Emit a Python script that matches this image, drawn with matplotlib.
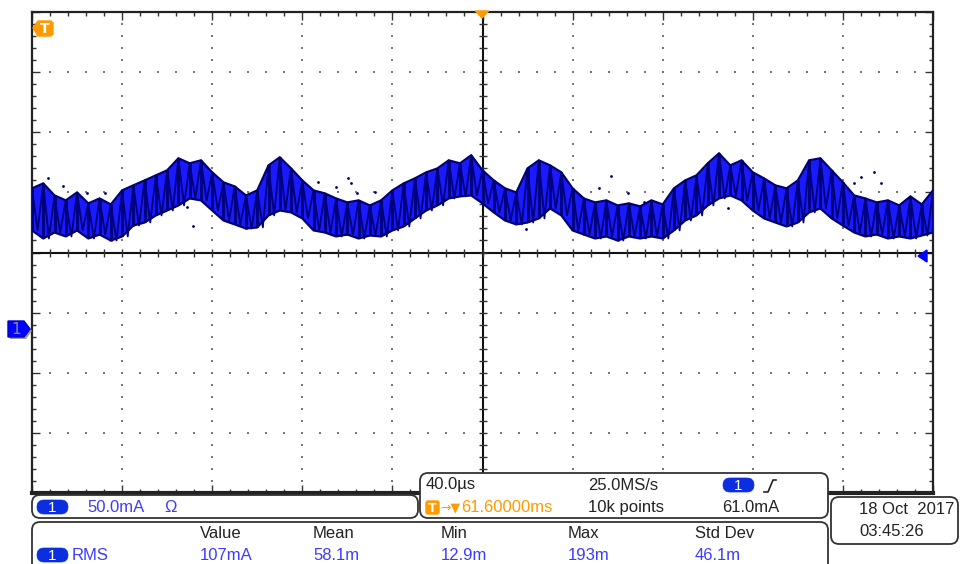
import matplotlib.pyplot as plt
import numpy as np
from matplotlib.patches import FancyBboxPatch, Polygon

plt.rcParams['font.family'] = ['Liberation Sans', 'DejaVu Sans']

# scope settings
t_div = 40.0          # us / div
i_div = 50.0          # mA / div
ch1_pos = -1.267      # ch1 ground marker, div from centre
n_xdiv, n_ydiv = 10, 8

# trace envelope, every 5 us from -200 to +200 us (mA)
t_env = np.arange(-200, 200.1, 5.0)
upper = [116.7, 120.8, 110.8, 106.7, 113.3, 104.2, 108.3, 103.3, 115.0, 119.2,
         123.3, 127.5, 131.7, 141.7, 137.5, 140.0, 130.0, 121.7, 118.3, 110.8,
         115.0, 135.8, 142.5, 133.3, 123.3, 115.0, 112.5, 108.3, 105.0, 106.7,
         102.5, 106.7, 115.0, 120.8, 125.0, 130.0, 133.3, 140.0, 137.5, 144.2,
         131.7, 123.3, 116.7, 113.3, 133.3, 140.0, 135.8, 130.0, 116.7, 108.3,
         105.0, 106.7, 102.5, 104.2, 101.7, 106.7, 103.3, 116.7, 123.3, 127.5,
         137.5, 145.8, 135.8, 140.0, 130.0, 125.0, 119.2, 116.7, 123.3, 140.0,
         141.7, 131.7, 121.7, 110.8, 108.3, 105.0, 106.7, 102.5, 110.0, 103.3,
         115.0]
lower = [81.7, 75.0, 80.0, 76.7, 81.7, 75.0, 78.3, 73.3, 76.7, 85.8,
         88.3, 94.2, 98.3, 102.5, 108.3, 106.7, 98.3, 90.0, 86.7, 83.3,
         84.2, 94.2, 98.3, 96.7, 91.7, 81.7, 80.0, 76.7, 78.3, 75.0,
         77.5, 76.7, 81.7, 85.0, 91.7, 98.3, 102.5, 108.3, 110.0, 110.8,
         104.2, 96.7, 90.0, 86.7, 88.3, 91.7, 100.0, 94.2, 81.7, 78.3,
         75.0, 76.7, 73.3, 76.7, 75.0, 76.7, 75.0, 81.7, 90.0, 94.2,
         102.5, 108.3, 110.8, 106.7, 98.3, 91.7, 88.3, 85.0, 88.3, 96.7,
         100.0, 91.7, 85.8, 80.0, 76.7, 78.3, 75.0, 76.7, 75.0, 77.5,
         80.0]

# stray samples outside the band
stray_t = [-192.9, -186.2, -175.6, -167.6, -131.1, -128.4, -72.9, -64.9, -59.6, -58.2, -55.6,
           -47.6, 19.1, 51.6, 56.9, 64.4, 71.6, 108.9, 164.9, 168.0, 173.8, 176.9]
stray_i = [125.0, 118.3, 112.5, 112.5, 100.8, 85.8, 121.7, 117.5, 125.0, 120.8, 112.5,
           113.3, 83.3, 116.7, 126.7, 112.5, 105.0, 100.0, 120.8, 125.8, 130.0, 120.8]

meas_names = ['Value', 'Mean', 'Min', 'Max', 'Std Dev']
meas_vals = ['107mA', '58.1m', '12.9m', '193m', '46.1m']

W, H = 960, 564
fig = plt.figure(figsize=(W / 100, H / 100), dpi=100)
fig.patch.set_facecolor('white')
rect = [32 / W, 1 - 493 / H, 901 / W, 481 / H]

# graticule
ax = fig.add_axes(rect)
ax.set_xlim(0, n_xdiv)
ax.set_ylim(0, n_ydiv)
ax.set_xticks(range(n_xdiv + 1))
ax.set_yticks(range(n_ydiv + 1))
ax.set_xticks(np.arange(0, n_xdiv + 0.01, 0.2), minor=True)
ax.set_yticks(np.arange(0, n_ydiv + 0.01, 0.2), minor=True)
ax.tick_params(which='both', direction='in', top=True, right=True,
               labelbottom=False, labelleft=False, color='#333')
ax.tick_params(which='major', length=6, width=1)
ax.tick_params(which='minor', length=3, width=1)
for s in ax.spines.values():
    s.set_linewidth(1.6)
    s.set_color('#222')
ax.spines['bottom'].set_linewidth(3)

ydots = np.arange(0.2, n_ydiv, 0.2)
xdots = np.arange(0.2, n_xdiv, 0.2)
for i in range(1, n_xdiv):
    if i != n_xdiv // 2:
        ax.scatter([i] * len(ydots), ydots, s=1.2, marker='s', color='#777', lw=0)
for j in range(1, n_ydiv):
    if j != n_ydiv // 2:
        ax.scatter(xdots, [j] * len(xdots), s=1.2, marker='s', color='#777', lw=0)
ax.axvline(n_xdiv / 2, color='#111', lw=1.5)
ax.axhline(n_ydiv / 2, color='#111', lw=1.5)
ax.plot([n_xdiv / 2] * len(ydots), ydots, ls='none', marker='_', ms=6, mew=1, color='#333')
ax.plot(xdots, [n_ydiv / 2] * len(xdots), ls='none', marker='|', ms=6, mew=1, color='#333')

# trace
axd = fig.add_axes(rect)
axd.axis('off')
axd.patch.set_alpha(0)
axd.set_xlim(-n_xdiv / 2 * t_div, n_xdiv / 2 * t_div)
axd.set_ylim((-n_ydiv / 2 - ch1_pos) * i_div, (n_ydiv / 2 - ch1_pos) * i_div)
up = np.array(upper)
lo = np.array(lower)
axd.fill_between(t_env, lo, up, color='#1a1aff', lw=0)
axd.vlines(t_env, lo, up, color='#00007a', lw=2.0)
zz_t = np.empty(2 * len(t_env))
zz_i = np.empty(2 * len(t_env))
zz_t[0::2] = t_env
zz_t[1::2] = t_env + 2.5
zz_i[0::2] = up
zz_i[1::2] = lo
axd.plot(zz_t, zz_i, color='#00007a', lw=1.3)
axd.plot(t_env, up, color='#000070', lw=1.6)
axd.plot(t_env, lo, color='#000070', lw=1.6)
axd.scatter(stray_t, stray_i, s=4, color='#00006a', lw=0)

# overlay: markers and readouts, in screen pixels
ov = fig.add_axes([0, 0, 1, 1])
ov.set_xlim(0, W)
ov.set_ylim(H, 0)
ov.axis('off')
ov.patch.set_alpha(0)

orange = '#ff9a00'
blue_txt = '#3c3cff'
pill = '#0b2fe0'

ov.add_patch(Polygon([(33, 28), (38, 21), (51, 21), (53, 23), (53, 34), (51, 36), (38, 36)],
                     closed=True, fc=orange, ec=orange, lw=1))
ov.text(45, 29, 'T', color='white', fontsize=10, fontweight='bold', ha='center', va='center',
        family='DejaVu Sans')
ov.add_patch(Polygon([(475.5, 11), (488.5, 11), (482, 18)], closed=True, fc=orange, ec=orange))

ov.add_patch(Polygon([(10, 323), (26, 323), (32, 331), (26, 339), (10, 339)],
                     closed=True, fc='#9a9a9a', ec='none'))
ov.add_patch(Polygon([(8, 321), (24, 321), (30, 329), (24, 337), (8, 337)],
                     closed=True, fc='#0000ff', ec='#0000cc'))
ov.text(16.5, 329.5, '1', color='#8a8aa0', fontsize=11, ha='center', va='center',
        family='DejaVu Sans')
ov.add_patch(Polygon([(918, 256), (927, 250), (927, 262)], closed=True, fc='#0000ff', ec='#0000ff'))


def box(x, y, w, h, r=8):
    ov.add_patch(FancyBboxPatch((x, y), w, h, boxstyle='round,pad=0,rounding_size=%g' % r,
                                fc='white', ec='#333', lw=1.3))


def ch_pill(x, y):
    ov.add_patch(FancyBboxPatch((x, y - 7), 31, 14, boxstyle='round,pad=0,rounding_size=7',
                                fc=pill, ec=pill, lw=0.5))
    ov.text(x + 15.5, y + 0.5, '1', color='white', fontsize=11, ha='center', va='center')


fs = 12
box(32, 495, 386, 23)
box(420, 473, 408, 45)
box(831, 497, 127, 47)
box(32, 522, 796, 60)

ch_pill(37, 507)
ov.text(87, 507.5, '50.0mA', color=blue_txt, fontsize=fs, va='center')
ov.text(164, 507.5, 'Ω', color=blue_txt, fontsize=fs, va='center')

ov.text(426, 485, '40.0µs', color='#222', fontsize=fs, va='center')
ov.text(588, 485, '25.0MS/s', color='#222', fontsize=fs, va='center')
ch_pill(723, 485)
ov.plot([764, 768, 773, 776], [492, 492, 480, 480], color='#222', lw=1.2)
ov.add_patch(FancyBboxPatch((426, 501), 13, 13, boxstyle='round,pad=0,rounding_size=2',
                            fc=orange, ec=orange))
ov.text(432.5, 508, 'T', color='white', fontsize=9, fontweight='bold', ha='center', va='center',
        family='DejaVu Sans')
ov.text(440, 507.5, '→▼', color=orange, fontsize=9, va='center', family='DejaVu Sans')
ov.text(461, 507.5, '61.60000ms', color=orange, fontsize=fs, va='center')
ov.text(588, 507.5, '10k points', color='#222', fontsize=fs, va='center')
ov.text(722, 507.5, '61.0mA', color='#222', fontsize=fs, va='center')

ov.text(859, 509, '18 Oct  2017', color='#222', fontsize=fs, va='center')
ov.text(859, 531, '03:45:26', color='#222', fontsize=fs, va='center')

col_x = [200, 313, 441, 568, 695]
for cx, name, val in zip(col_x, meas_names, meas_vals):
    ov.text(cx, 534, name, color='#222', fontsize=fs, va='center')
    ov.text(cx, 555, val, color=blue_txt, fontsize=fs, va='center')
ch_pill(37, 555)
ov.text(72, 555.5, 'RMS', color=blue_txt, fontsize=fs, va='center')

fig.savefig('out.png', dpi=100)
